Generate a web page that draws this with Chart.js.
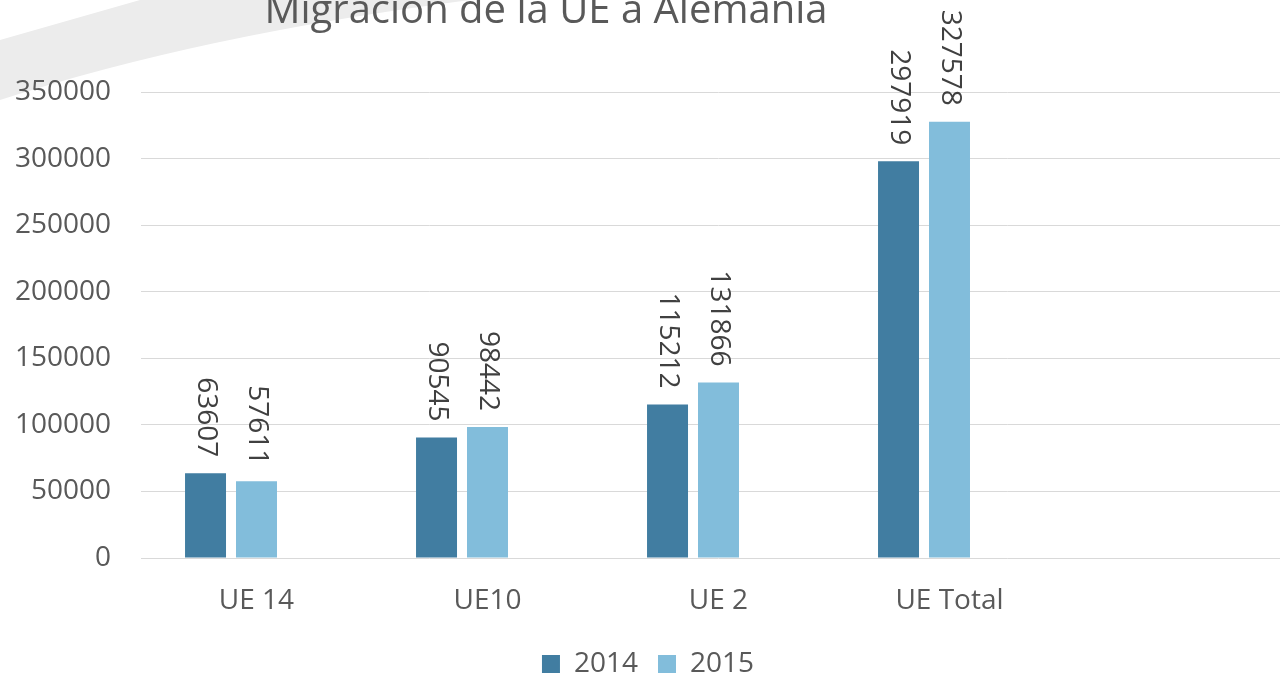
<!DOCTYPE html>
<html>
<head>
<meta charset="utf-8">
<script src="https://cdn.jsdelivr.net/npm/chart.js@4/dist/chart.umd.min.js"></script>
<style>
  html, body { margin: 0; padding: 0; background: #fff; overflow: hidden; }
  #wrap { position: absolute; left: 0; top: 0; width: 1300px; height: 688px; }
</style>
</head>
<body>
<div id="wrap"><canvas id="chart" width="1300" height="688"></canvas></div>
<script>
const chartTitle = "Migración de la UE a Alemania";
const categories = ["UE 14", "UE10", "UE 2", "UE Total", ""];
const seriesNames = ["2014", "2015"];
const values2014 = [63607, 90545, 115212, 297919];
const values2015 = [57611, 98442, 131866, 327578];
const emptySlot = [0, 0, 0, 0];
const yTicks = [0, 50000, 100000, 150000, 200000, 250000, 300000, 350000];

const fontFamily = "'Open Sans', 'Noto Sans', sans-serif";
const textGray = "#595959";

// light swoosh in the top-left corner + the title
const decor = {
  id: "decor",
  beforeDraw(c) {
    const ctx = c.ctx;
    ctx.save();
    ctx.fillStyle = "#ececec";
    ctx.beginPath();
    ctx.moveTo(0, 40);
    ctx.lineTo(140, 0);
    ctx.lineTo(470, 0);
    ctx.quadraticCurveTo(200, 35, 0, 100);
    ctx.closePath();
    ctx.fill();
    ctx.restore();
  },
  afterDraw(c) {
    const ctx = c.ctx;
    ctx.save();
    ctx.font = "40px " + fontFamily;
    ctx.fillStyle = textGray;
    ctx.textAlign = "center";
    ctx.textBaseline = "alphabetic";
    ctx.fillText(chartTitle, 546, 23);
    ctx.restore();
  },
};

// vertical value labels above each bar
const barLabels = {
  id: "barLabels",
  afterDatasetsDraw(c) {
    const ctx = c.ctx;
    ctx.save();
    ctx.font = "28px " + fontFamily;
    ctx.fillStyle = "#404040";
    ctx.textAlign = "right";
    ctx.textBaseline = "middle";
    [0, 1].forEach((di) => {
      const meta = c.getDatasetMeta(di);
      meta.data.forEach((bar, i) => {
        const v = c.data.datasets[di].data[i];
        if (v == null) return;
        ctx.save();
        ctx.translate(bar.x, bar.y - 16);
        ctx.rotate(Math.PI / 2);
        ctx.fillText(String(v), 0, 0);
        ctx.restore();
      });
    });
    ctx.restore();
  },
};

Chart.defaults.font.family = fontFamily;
Chart.defaults.color = textGray;

new Chart(document.getElementById("chart"), {
  type: "bar",
  data: {
    labels: categories,
    datasets: [
      { label: seriesNames[0], data: values2014, backgroundColor: "#417da1" },
      { label: seriesNames[1], data: values2015, backgroundColor: "#82bddb" },
      { label: "", data: emptySlot, backgroundColor: "rgba(0,0,0,0)" },
    ],
  },
  options: {
    responsive: false,
    animation: false,
    events: [],
    layout: { padding: { top: 92, right: 4, left: 0, bottom: 0 } },
    datasets: {
      bar: { categoryPercentage: 0.662, barPercentage: 0.804, borderWidth: 0 },
    },
    plugins: {
      title: { display: false },
      tooltip: { enabled: false },
      legend: {
        position: "bottom",
        labels: {
          font: { size: 28 },
          color: textGray,
          boxWidth: 18,
          boxHeight: 18,
          padding: 20,
          filter: (item) => item.text !== "",
        },
      },
    },
    scales: {
      x: {
        grid: { display: false, drawTicks: false },
        border: { display: false },
        ticks: { font: { size: 28 }, color: textGray, padding: 26, maxRotation: 0 },
        afterFit: (s) => { s.height = 72; },
      },
      y: {
        min: yTicks[0],
        max: yTicks[yTicks.length - 1],
        afterBuildTicks: (s) => { s.ticks = yTicks.map((v) => ({ value: v })); },
        grid: { color: "#d9d9d9", lineWidth: 1, drawTicks: false },
        border: { display: false },
        ticks: { font: { size: 28 }, color: textGray, padding: 30, callback: (v) => String(v) },
        afterFit: (s) => { s.width = 141; },
      },
    },
  },
  plugins: [decor, barLabels],
});
</script>
</body>
</html>
